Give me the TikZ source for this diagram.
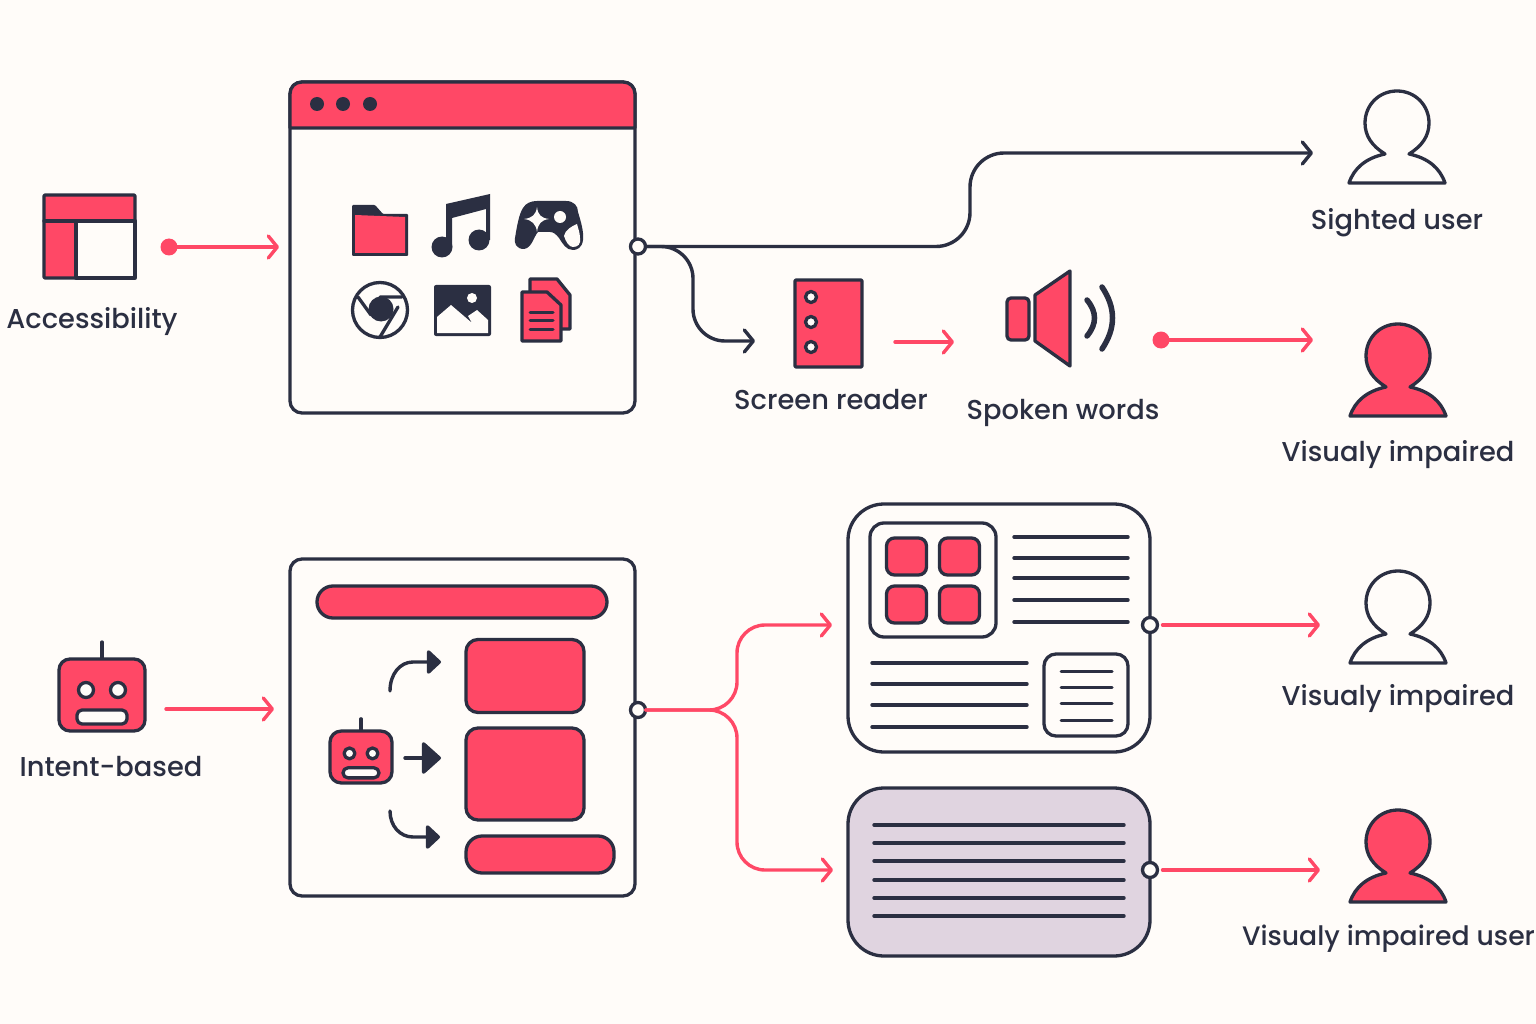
\documentclass[tikz,border=0pt]{standalone}
\usepackage{fontspec}
\setmainfont{Poppins Medium}
\usetikzlibrary{arrows.meta,positioning,calc}
\definecolor{paper}{HTML}{FFFCF9}
\definecolor{ink}{HTML}{2B2F42}
\definecolor{coral}{HTML}{FF4866}
\definecolor{lilac}{HTML}{E0D4E0}
\tikzset{
  inkline/.style={draw=ink, line width=3.3pt, line cap=round, line join=round},
  textline/.style={ink, line width=3.4pt, line cap=round},
  thinline/.style={ink, line width=3pt, line cap=round},
  redflow/.style={draw=coral, line width=3.4pt, line cap=round, -{Straight Barb[length=9pt,width=22pt,round]}},
  inkflow/.style={draw=ink, line width=3.4pt, line cap=round, -{Straight Barb[length=9pt,width=22pt,round]}},
  turnflow/.style={draw=ink, line width=3.4pt, line cap=round, -{Triangle[length=15pt,width=27pt,round]}},
  panel/.style={inkline, fill=paper, rounded corners=12pt, inner sep=0pt, outer sep=0pt},
  card/.style={panel, rounded corners=36pt, minimum width=302pt, minimum height=#1},
  tile/.style={inkline, fill=coral, rounded corners=12pt, inner sep=0pt, outer sep=0pt},
  port/.style={circle, inkline, fill=paper, minimum size=15pt, inner sep=0pt, outer sep=0pt},
  reddot/.style={circle, fill=coral, minimum size=17pt, inner sep=0pt, outer sep=0pt},
  caption/.style={text=ink, font=\fontsize{27.3}{33}\selectfont, inner sep=0pt},
  person/.pic={
    \path[inkline, pic actions] (-12,63) .. controls (-25,55) and (-32,45) .. (-32,32)
      .. controls (-32,14) and (-18,0) .. (0,0) .. controls (18,0) and (32,14) .. (32,32)
      .. controls (32,45) and (25,55) .. (12,63) .. controls (31,67) and (43,77) .. (48,92)
      -- (-48,92) .. controls (-43,77) and (-31,67) .. (-12,63) -- cycle;
  },
  robot/.pic={
    \draw[inkline] (0,-36) -- (0,-53);
    \draw[inkline, fill=coral, rounded corners=11pt] (-43,-36) rectangle (43,36);
    \draw[inkline, fill=paper] (-16,-5) circle (7.5) (16,-5) circle (7.5);
    \draw[inkline, fill=paper, rounded corners=5pt] (-25,15) rectangle (25,29);
  },
}
\begin{document}
\begin{tikzpicture}[x=1pt, y=-1pt]
  \useasboundingbox (0,0) rectangle (1536,1024);
  \fill[paper] (0,0) rectangle (1536,1024);

  % top row
  \node[tile, rounded corners=1pt, minimum width=91pt, minimum height=83pt] (layout) at (89.5,236.5) {};
  \draw[inkline, fill=paper] (76,221) rectangle (135,278);
  \draw[inkline] (44,221) -- (135,221);
  \node[caption] (accessibility) at (92,321.5) {Accessibility};
  \node[reddot] (accessdot) at (169,247) {};
  \coordinate (browserin) at (279,247);

  \node[panel, minimum width=345pt, minimum height=331pt] (browser) at (462.5,247.5) {};
  \draw[inkline, fill=coral] (290,128) -- (290,94) .. controls (290,87) and (295,82) .. (302,82) -- (623,82)
    .. controls (630,82) and (635,87) .. (635,94) -- (635,128) -- cycle;
  \foreach \x in {317,343,370} \fill[ink] (\x,104) circle (7);

  % folder
  \fill[ink, rounded corners=1pt] (352,205) -- (375,205) -- (383,214) -- (408,214) -- (408,256) -- (352,256) -- cycle;
  \fill[coral] (355,215) -- (405,217) -- (405,253) -- (355,253) -- cycle;
  % music
  \fill[ink] (446,204) -- (490,194) -- (490,240) -- (486,240) -- (486,209) -- (452,218) -- (452,247) -- (446,247) -- cycle;
  \fill[ink] (442,247) circle (10.5) (479,240) circle (10.5);
  % gamepad
  \fill[ink] (537,201) -- (566,201) .. controls (574,201) and (578,206) .. (578,212)
    .. controls (581,222) and (584,232) .. (583,240) .. controls (582,248) and (577,250) .. (573,250)
    .. controls (566,250) and (563,244) .. (559,238) .. controls (556,234) and (553,232) .. (550,232)
    -- (538,232) .. controls (534,236) and (532,248) .. (524,249) .. controls (516,249) and (514,243) .. (515,238)
    .. controls (517,226) and (519,214) .. (523,208) .. controls (526,203) and (531,201) .. (537,201) -- cycle;
  \fill[paper] (577,224) .. controls (572,226) and (565,230) .. (564,236) .. controls (566,242) and (569,247) .. (573,247)
    .. controls (578,247) and (581,244) .. (580,238) .. controls (580,233) and (578,228) .. (577,224) -- cycle;
  \fill[paper] (537,207) .. controls (538,215) and (541,218) .. (549,219) .. controls (541,220) and (538,224) .. (537,232)
    .. controls (536,224) and (532,220) .. (524,219) .. controls (532,218) and (536,215) .. (537,207) -- cycle;
  \fill[paper] (560,217) circle (6);
  % aperture
  \draw[inkline] (380,310) circle (27.5);
  \fill[ink] (381,309) circle (12.5);
  \draw[inkline] (380,297) -- (402,297) (358,297) -- (371,315) (398,307) -- (380,337);
  % image
  \fill[ink, rounded corners=2pt] (434,285) rectangle (491,336);
  \fill[paper] (437,317) -- (451,305) -- (472,323) -- (468,316) -- (477,310) -- (488,320) -- (488,333) -- (437,333) -- cycle;
  \fill[paper] (472,298) circle (5);
  % documents
  \draw[inkline, fill=coral] (530,279) -- (557,279) -- (570,295) -- (570,329) -- (530,329) -- cycle;
  \draw[inkline, fill=coral] (522,292) -- (547,292) -- (561,305) -- (561,341) -- (522,341) -- cycle;
  \foreach \y in {312,320,329} \draw[thinline] (530,\y) -- (553,\y);

  \coordinate (sightedin) at (1313,153);
  \coordinate (readerin) at (755,341);
  \node[port] (browserport) at (638,246.5) {};
  \draw[inkflow, rounded corners=34pt] (browserport) -| (970,153) -- (sightedin);
  \draw[inkflow, rounded corners=32pt] (browserport) -| (693,341) -- (readerin);
  \draw[redflow] (accessdot) -- (browserin);

  \node[tile, rounded corners=1pt, minimum width=67pt, minimum height=87pt] (reader) at (828.5,323.5) {};
  \foreach \y in {297,322,347} \draw[inkline, fill=paper] (811,\y) circle (5.5);
  \node[caption] (readerlabel) at (831,400) {Screen reader};
  \coordinate (readerout) at (895,342);
  \coordinate (speakerin) at (954,342);
  \draw[redflow] (readerout) -- (speakerin);

  \node[tile, rounded corners=4pt, minimum width=22pt, minimum height=42pt] (speakerback) at (1018,319) {};
  \draw[inkline, fill=coral] (1035,295) -- (1070,271) -- (1070,366) -- (1035,341) -- cycle;
  \draw[ink, line width=5.5pt, line cap=round] (1087,300) .. controls (1097,312) and (1097,324) .. (1087,336);
  \draw[ink, line width=5.5pt, line cap=round] (1102,287) .. controls (1116,308) and (1116,328) .. (1102,349);
  \node[caption] (speakerlabel) at (1063,412.5) {Spoken words};
  \node[reddot] (speakerdot) at (1161,340) {};
  \coordinate (impairedin) at (1313,340);
  \draw[redflow] (speakerdot) -- (impairedin);

  \pic at (1397,91) {person};
  \node[caption] (sightedlabel) at (1397,222.5) {Sighted user};
  \pic[fill=coral] at (1398,324) {person};
  \node[caption] (impairedlabel) at (1398,454.5) {Visualy impaired};

  % bottom row
  \pic at (102,695) {robot};
  \node[caption] (intentlabel) at (111,767) {Intent-based};
  \coordinate (robotout) at (166,709);
  \coordinate (intentin) at (274,709);
  \draw[redflow] (robotout) -- (intentin);

  \node[panel, minimum width=345pt, minimum height=337pt] (intent) at (462.5,727.5) {};
  \node[tile, rounded corners=16pt, minimum width=290pt, minimum height=32pt] (searchbar) at (462,602) {};
  \pic[scale=0.72] at (361,757) {robot};
  \node[tile, minimum width=118pt, minimum height=73pt] (blocka) at (525,676) {};
  \node[tile, minimum width=118pt, minimum height=92pt] (blockb) at (525,774) {};
  \node[tile, rounded corners=16pt, minimum width=148pt, minimum height=37pt] (blockc) at (540,854.5) {};
  \coordinate (turnup) at (390,691);
  \coordinate (turnmid) at (405,758);
  \coordinate (turndown) at (390,811);
  \draw[turnflow] (turnup) .. controls (390,674) and (400,662) .. (413,662) -- (441,662);
  \draw[turnflow, -{Triangle[length=20pt,width=35pt,round]}] (turnmid) -- (441,758);
  \draw[turnflow] (turndown) .. controls (390,826) and (400,837) .. (413,837) -- (440,837);

  \node[port] (intentport) at (638,710) {};
  \coordinate (richin) at (832,625);
  \coordinate (plainin) at (833,870);
  \draw[redflow, rounded corners=28pt] (intentport) -| (737,625) -- (richin);
  \draw[redflow, rounded corners=28pt] (intentport) -| (737,870) -- (plainin);

  \node[card=248pt] (rich) at (999,628) {};
  \node[panel, rounded corners=14pt, minimum width=126pt, minimum height=114pt] (gallery) at (933,580) {};
  \foreach \x in {906.5,959.5} \foreach \y in {556.5,604.5}
    \node[tile, rounded corners=8pt, minimum width=40pt, minimum height=37pt] at (\x,\y) {};
  \foreach \y in {537,558,578,600,622} \draw[textline] (1014,\y) -- (1128,\y);
  \foreach \y in {663,684,705,727} \draw[textline] (872,\y) -- (1027,\y);
  \node[panel, minimum width=84pt, minimum height=82pt] (note) at (1086,695) {};
  \foreach \y in {671,687,703,720} \draw[thinline] (1061,\y) -- (1112,\y);

  \node[card=168pt, fill=lilac] (plain) at (999,872) {};
  \foreach \y in {825,843,861,880,898,916} \draw[textline] (874,\y) -- (1124,\y);

  \node[port] (richport) at (1150,625) {};
  \node[port] (plainport) at (1150,870) {};
  \coordinate (sightedb) at (1320,625);
  \coordinate (impairedb) at (1320,870);
  \draw[redflow, shorten <=5pt] (richport) -- (sightedb);
  \draw[redflow, shorten <=5pt] (plainport) -- (impairedb);

  \pic at (1398,571) {person};
  \node[caption] (visuallabel) at (1398,698.5) {Visualy impaired};
  \pic[fill=coral] at (1398,810) {person};
  \node[caption, font=\fontsize{26.7}{33}\selectfont] (userlabel) at (1388.5,939) {Visualy impaired user};
\end{tikzpicture}
\end{document}
